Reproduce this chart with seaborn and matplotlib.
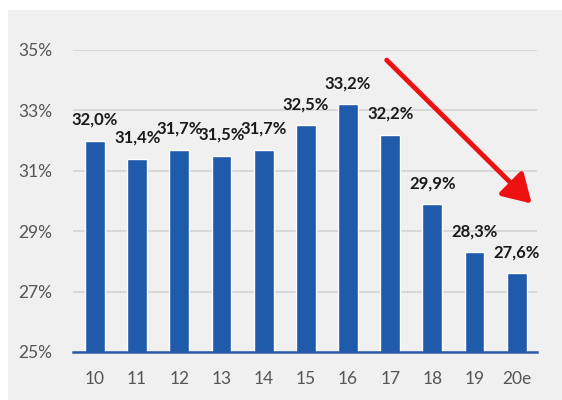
import matplotlib
matplotlib.use("Agg")
import matplotlib.pyplot as plt
import seaborn as sns
from matplotlib.patches import Rectangle, FancyArrowPatch

categories = ["10", "11", "12", "13", "14", "15", "16", "17", "18", "19", "20e"]
values = [32.0, 31.4, 31.7, 31.5, 31.7, 32.5, 33.2, 32.2, 29.9, 28.3, 27.6]
yticks = [25, 27, 29, 31, 33, 35]

sns.set_theme(style="white")
plt.rcParams['font.family'] = ['Lato', 'DejaVu Sans']

fig = plt.figure(figsize=(5.62, 4.0), dpi=100)
fig.patch.set_facecolor("white")
fig.patches.append(Rectangle((8/562, 0), 554/562, 390/400, transform=fig.transFigure,
                             facecolor="#f0f0f0", edgecolor="none", zorder=-10))
ax = fig.add_axes([73/562, 1-352/400, (537-73)/562, (352-50)/400])
ax.set_facecolor("none")

sns.barplot(x=categories, y=values, color="#1f5aab", width=0.47, ax=ax, zorder=3,
            saturation=1)

ax.set_ylim(25, 35)
ax.set_xlim(-0.52, 10.48)
ax.set_yticks(yticks)
ax.set_yticklabels([f"{t}%" for t in yticks])
ax.grid(axis="y", color="#d6d6d6", linewidth=1.3, zorder=0)
ax.set_axisbelow(True)
for s in ["top", "right", "left"]:
    ax.spines[s].set_visible(False)
ax.spines["bottom"].set_color("#2a5ba8")
ax.spines["bottom"].set_linewidth(1.8)
ax.spines["bottom"].set_zorder(4)
ax.tick_params(axis="both", length=0, labelsize=12.5, colors="#555555")
ax.tick_params(axis="y", pad=15)
ax.tick_params(axis="x", pad=14)
ax.set_xlabel("")
ax.set_ylabel("")

for i, v in enumerate(values):
    ax.annotate(f"{v:.1f}%".replace(".", ","), xy=(i, v), xytext=(0, 15),
                textcoords="offset points", ha="center", va="center",
                fontsize=12, fontweight="bold", color="#1a1a1a", zorder=5)

arrow = FancyArrowPatch((6.87, 34.73), (10.4, 29.85), arrowstyle="-|>,head_length=10,head_width=6",
                        color="#ee1111", linewidth=3.5, mutation_scale=1.7, zorder=6,
                        clip_on=False)
ax.add_patch(arrow)

fig.savefig("out.png", dpi=100)
